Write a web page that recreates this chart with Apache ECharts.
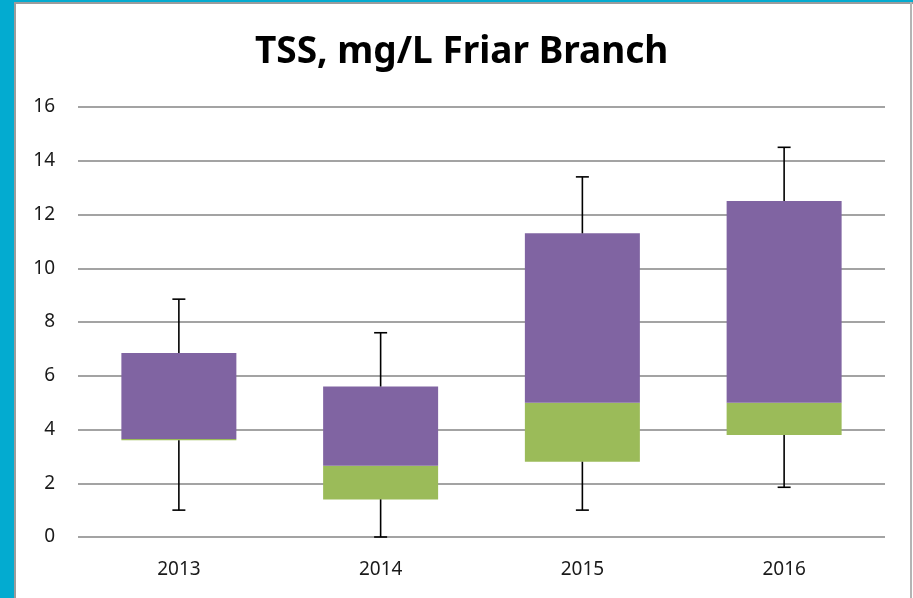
<!DOCTYPE html>
<html lang="en">
<head>
    <meta charset="UTF-8">
    <title>TSS, mg/L Friar Branch</title>
    <script src="https://cdn.jsdelivr.net/npm/echarts@6/dist/echarts.min.js"></script>
    <style>
        html, body { margin: 0; padding: 0; background: #ffffff; }
        #main { width: 913px; height: 598px; }
    </style>
</head>
<body>
<div id="main"></div>
<script>
    // years on the x axis
    const years = ['2013', '2014', '2015', '2016'];
    // box plot stats
    const minVals = [1.0, 0.0, 1.0, 1.85];
    const q1Vals = [3.6, 1.4, 2.8, 3.8];
    const medVals = [3.65, 2.65, 5.0, 5.0];
    const q3Vals = [6.85, 5.6, 11.3, 12.5];
    const maxVals = [8.85, 7.6, 13.4, 14.5];

    // stacked pieces: invisible base, green lower half, purple upper half
    const lowerPart = q1Vals.map((q, i) => +(medVals[i] - q).toFixed(2));
    const upperPart = q3Vals.map((q, i) => +(q - medVals[i]).toFixed(2));

    let myChart = echarts.init(document.getElementById('main'));

    // whiskers: line from box to min/max plus a small cap
    function renderWhisker(params, api) {
        let idx = api.value(0);
        let lo = api.coord([idx, api.value(1)]);
        let q1 = api.coord([idx, api.value(2)]);
        let q3 = api.coord([idx, api.value(3)]);
        let hi = api.coord([idx, api.value(4)]);
        let cap = 6.5;
        let style = { stroke: '#000000', lineWidth: 1.6 };
        return {
            type: 'group',
            children: [
                { type: 'line', shape: { x1: hi[0], y1: hi[1], x2: q3[0], y2: q3[1] }, style: style },
                { type: 'line', shape: { x1: hi[0] - cap, y1: hi[1], x2: hi[0] + cap, y2: hi[1] }, style: style },
                { type: 'line', shape: { x1: lo[0], y1: lo[1], x2: q1[0], y2: q1[1] }, style: style },
                { type: 'line', shape: { x1: lo[0] - cap, y1: lo[1], x2: lo[0] + cap, y2: lo[1] }, style: style }
            ]
        };
    }

    let option = {
        animation: false,
        backgroundColor: '#ffffff',
        title: {
            text: 'TSS, mg/L Friar Branch',
            left: 250,
            top: 29,
            textStyle: {
                fontFamily: 'Noto Sans',
                fontWeight: 'bold',
                fontSize: 37,
                color: '#000000'
            }
        },
        graphic: [
            { type: 'rect', left: 0, top: 0, shape: { width: 14, height: 598 }, style: { fill: '#03abd0' }, z: 10 },
            { type: 'rect', left: 0, top: 0, shape: { width: 913, height: 2 }, style: { fill: '#03abd0' }, z: 10 },
            { type: 'rect', left: 14, top: 2, shape: { width: 2, height: 596 }, style: { fill: '#9c9c9c' }, z: 10 },
            { type: 'rect', left: 14, top: 2, shape: { width: 899, height: 2 }, style: { fill: '#9c9c9c' }, z: 10 },
            { type: 'rect', left: 910, top: 2, shape: { width: 2, height: 596 }, style: { fill: '#b4b4b4' }, z: 10 }
        ],
        grid: {
            left: 78,
            right: 28,
            top: 107,
            bottom: 61
        },
        xAxis: {
            type: 'category',
            data: years,
            axisLine: { show: false },
            axisTick: { show: false },
            axisLabel: {
                margin: 23,
                fontFamily: 'Noto Sans',
                fontSize: 19,
                color: '#1a1a1a'
            }
        },
        yAxis: {
            type: 'value',
            min: 0,
            max: 16,
            interval: 2,
            axisLine: { show: false },
            axisTick: { show: false },
            axisLabel: {
                margin: 23,
                fontFamily: 'Noto Sans',
                fontSize: 19,
                color: '#1a1a1a'
            },
            splitLine: { lineStyle: { color: '#a3a3a3', width: 2 } }
        },
        series: [
            {
                name: 'base',
                type: 'bar',
                stack: 'box',
                barWidth: '57%',
                itemStyle: { color: 'transparent' },
                data: q1Vals
            },
            {
                name: 'Q1-Median',
                type: 'bar',
                stack: 'box',
                itemStyle: { color: '#9bbb59' },
                data: lowerPart
            },
            {
                name: 'Median-Q3',
                type: 'bar',
                stack: 'box',
                itemStyle: { color: '#8064a2' },
                data: upperPart
            },
            {
                name: 'whiskers',
                type: 'custom',
                renderItem: renderWhisker,
                encode: { x: 0, y: [1, 2, 3, 4] },
                data: years.map((y, i) => [i, minVals[i], q1Vals[i], q3Vals[i], maxVals[i]]),
                z: 5
            }
        ]
    };

    myChart.setOption(option);
</script>
</body>
</html>
